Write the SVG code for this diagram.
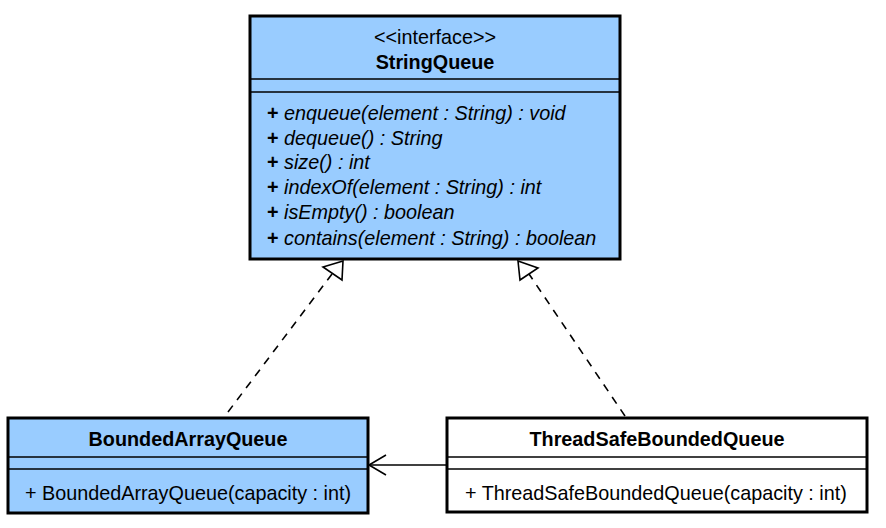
<svg xmlns="http://www.w3.org/2000/svg" width="886" height="528" viewBox="0 0 886 528">
<style>
.box{stroke:#000;stroke-width:3}
.blue{fill:#99ccff}
.white{fill:#fff}
.sep{stroke:#000;stroke-width:1.5}
text{font-family:"Liberation Sans",Arial,sans-serif;font-size:19.8px;fill:#000}
.b{font-weight:bold}
.i{font-style:italic}
.conn{fill:none;stroke:#000;stroke-width:1.6}
.dash{stroke-dasharray:8,7}
</style>
<rect width="886" height="528" fill="#fff"/>
<g id="StringQueue">
<rect class="box blue" x="250" y="16" width="370" height="243"/>
<line class="sep" x1="250" y1="79" x2="620" y2="79"/>
<line class="sep" x1="250" y1="92" x2="620" y2="92"/>
<text x="435" y="44" text-anchor="middle">&lt;&lt;interface&gt;&gt;</text>
<text x="435" y="69" text-anchor="middle" class="b">StringQueue</text>
<text x="267" y="120" class="i"><tspan class="b" font-style="normal">+</tspan> enqueue(element : String) : void</text>
<text x="267" y="145" class="i"><tspan class="b" font-style="normal">+</tspan> dequeue() : String</text>
<text x="267" y="169" class="i"><tspan class="b" font-style="normal">+</tspan> size() : int</text>
<text x="267" y="194" class="i"><tspan class="b" font-style="normal">+</tspan> indexOf(element : String) : int</text>
<text x="267" y="219" class="i"><tspan class="b" font-style="normal">+</tspan> isEmpty() : boolean</text>
<text x="267" y="245" class="i"><tspan class="b" font-style="normal">+</tspan> contains(element : String) : boolean</text>
</g>
<g id="BoundedArrayQueue">
<rect class="box blue" x="8" y="418" width="360" height="95"/>
<line class="sep" x1="8" y1="457" x2="368" y2="457"/>
<line class="sep" x1="8" y1="469" x2="368" y2="469"/>
<text x="188" y="446" text-anchor="middle" class="b">BoundedArrayQueue</text>
<text x="25" y="500">+ BoundedArrayQueue(capacity : int)</text>
</g>
<g id="ThreadSafeBoundedQueue">
<rect class="box white" x="447" y="418" width="420" height="94"/>
<line class="sep" x1="447" y1="457" x2="867" y2="457"/>
<line class="sep" x1="447" y1="469" x2="867" y2="469"/>
<text x="657" y="446" text-anchor="middle" class="b">ThreadSafeBoundedQueue</text>
<text x="465" y="500">+ ThreadSafeBoundedQueue(capacity : int)</text>
</g>
<g id="connectors">
<line class="conn dash" x1="228" y1="412" x2="332" y2="274"/>
<polygon class="conn" fill="#fff" points="343,261 323,267 342,280"/>
<line class="conn dash" x1="625" y1="416" x2="529" y2="274"/>
<polygon class="conn" fill="#fff" points="518,261 538,268 520,280"/>
<line class="conn" x1="447" y1="465" x2="369" y2="465"/>
<polyline class="conn" points="386,455 369,465 386,475"/>
</g>
</svg>
